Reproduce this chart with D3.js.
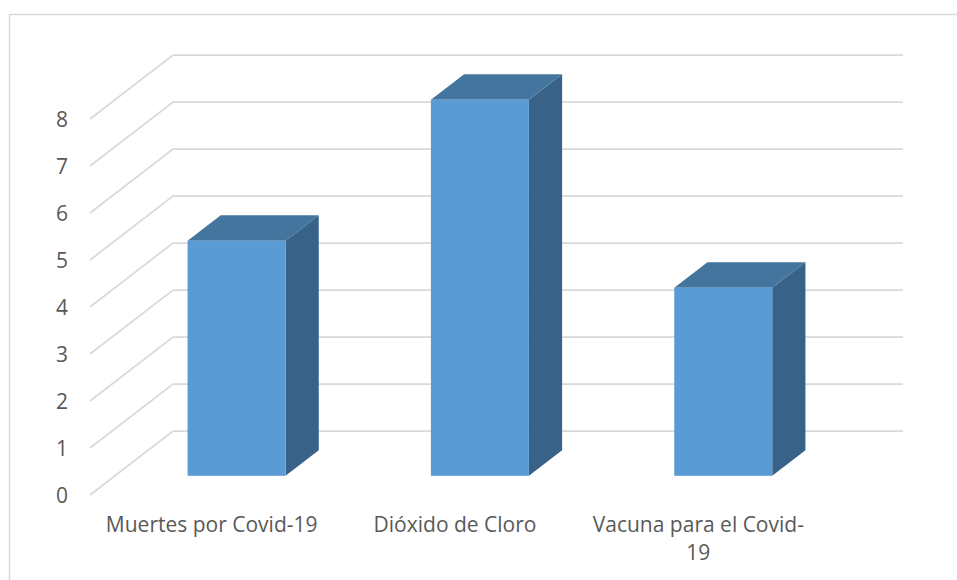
<!DOCTYPE html>
<html>
<head>
<meta charset="utf-8">
<script src="https://cdn.jsdelivr.net/npm/d3@7"></script>
<style>
  html, body { margin: 0; padding: 0; background: #ffffff; }
  svg { display: block; }
  text { font-family: "Open Sans", "Noto Sans", sans-serif; fill: #595959; }
</style>
</head>
<body>
<svg id="chart" width="957" height="580"></svg>
<script>
// ---- data ----
const categories = ["Muertes por Covid-19", "Dióxido de Cloro", "Vacuna para el Covid-19"];
const values = [5, 8, 4];
const yTicks = [0, 1, 2, 3, 4, 5, 6, 7, 8];

// ---- layout ----
const W = 957, H = 580;
const floorLeft = 90, floorRight = 820;   // front edge of floor
const yFront0 = 495, yFront8 = 119;       // front plane value mapping
const depthX = 83, depthY = -64;          // full depth offset
const barDepthStart = 0.3, barDepthEnd = 0.7;
const barWidth = 98;
const backRight = 903;
const fontSize = 21;

const svg = d3.select("#chart");

// chart border
svg.append("rect")
  .attr("x", 9.5).attr("y", 14.5)
  .attr("width", W + 20).attr("height", H + 20)
  .attr("fill", "none").attr("stroke", "#d9d9d9").attr("stroke-width", 1.5);

const x = d3.scaleBand().domain(categories).range([floorLeft, floorRight]);
const y = d3.scaleLinear().domain([0, 8]).range([yFront0, yFront8]);

// gridlines: side wall diagonal + back wall horizontal
const grid = svg.append("g").attr("class", "grid");
grid.selectAll("path").data(yTicks).enter().append("path")
  .attr("d", v => {
    const fx = floorLeft, fy = y(v);
    const bx = fx + depthX, by = fy + depthY;
    return `M${fx},${fy}L${bx},${by}L${backRight},${by}`;
  })
  .attr("fill", "none")
  .attr("stroke", "#d9d9d9")
  .attr("stroke-width", 1.75);

// y tick labels
svg.append("g").selectAll("text").data(yTicks).enter().append("text")
  .attr("x", 68)
  .attr("y", v => y(v))
  .attr("dy", "0.36em")
  .attr("text-anchor", "end")
  .attr("font-size", fontSize)
  .text(v => v);

// bars
const bars = svg.append("g").attr("class", "bars");
const dx0 = depthX * barDepthStart, dy0 = depthY * barDepthStart;
const ddx = depthX * (barDepthEnd - barDepthStart), ddy = depthY * (barDepthEnd - barDepthStart);

categories.forEach((c, i) => {
  const v = values[i];
  const cx = x(c) + x.bandwidth() / 2 + dx0;
  const left = cx - barWidth / 2, right = cx + barWidth / 2;
  const bottom = y(0) + dy0, top = y(v) + dy0;
  const g = bars.append("g");
  // side face
  g.append("path")
    .attr("d", `M${right},${top}L${right + ddx},${top + ddy}L${right + ddx},${bottom + ddy}L${right},${bottom}Z`)
    .attr("fill", "#386288");
  // top face
  g.append("path")
    .attr("d", `M${left},${top}L${left + ddx},${top + ddy}L${right + ddx},${top + ddy}L${right},${top}Z`)
    .attr("fill", "#44759F");
  // front face
  g.append("rect")
    .attr("x", left).attr("y", top)
    .attr("width", barWidth).attr("height", bottom - top)
    .attr("fill", "#5B9BD5");
});

// category labels with wrapping
const maxLabelW = x.bandwidth() - 20;
const labels = svg.append("g");
categories.forEach(c => {
  const cx = x(c) + x.bandwidth() / 2;
  const t = labels.append("text")
    .attr("text-anchor", "middle")
    .attr("font-size", fontSize)
    .attr("x", cx).attr("y", 532);
  const tokens = c.split(/(?<=[\s-])/);
  let lines = [], cur = "";
  tokens.forEach(tok => {
    const trial = cur + tok;
    t.text(trial.trim());
    if (cur && t.node().getComputedTextLength() > maxLabelW) {
      lines.push(cur.trim());
      cur = tok;
    } else {
      cur = trial;
    }
  });
  lines.push(cur.trim());
  t.text(null);
  lines.forEach((ln, k) => {
    t.append("tspan").attr("x", cx).attr("y", 532 + k * 28).text(ln);
  });
});
</script>
</body>
</html>
